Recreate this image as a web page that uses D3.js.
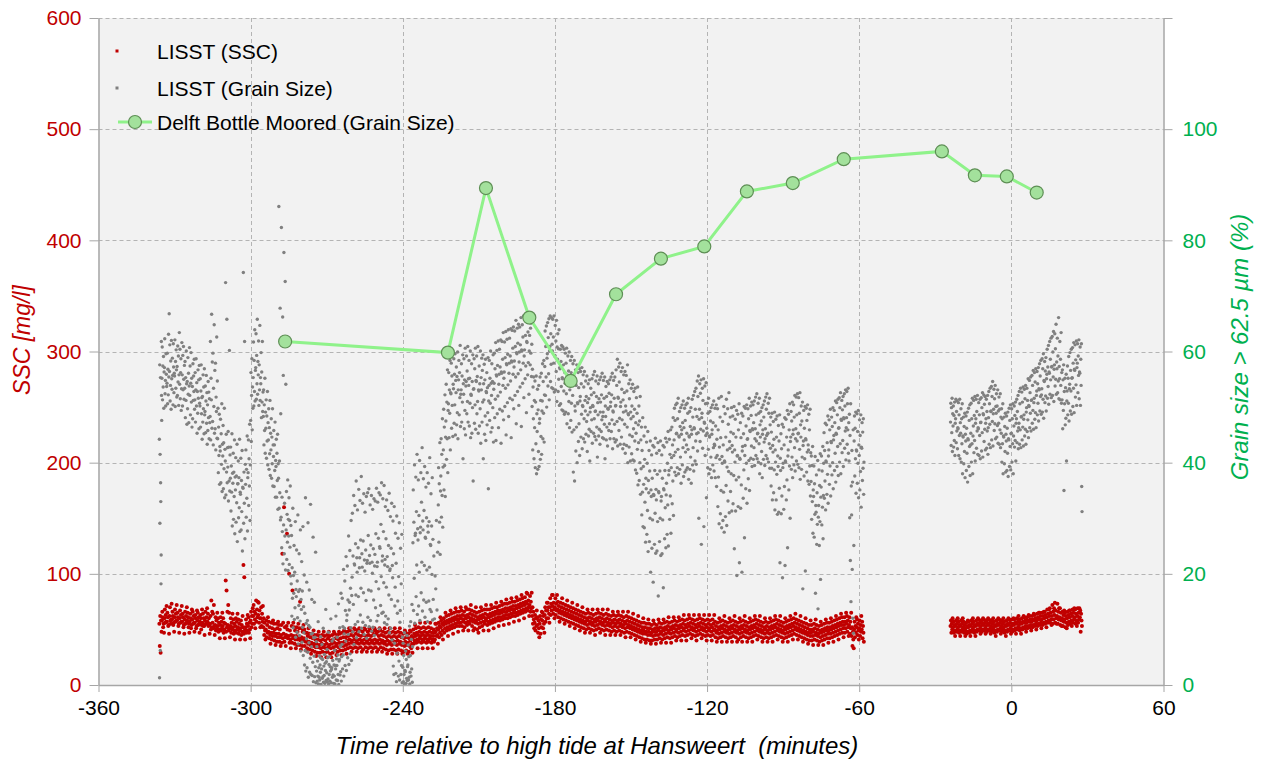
<!DOCTYPE html>
<html><head><meta charset="utf-8">
<script src="https://cdn.jsdelivr.net/npm/d3@7"></script>
<style>body{margin:0;background:#fff;} svg{display:block;font-family:"Liberation Sans",Arial,sans-serif;}</style>
</head><body><svg id="c" width="1265" height="762"></svg>
<script>
// ---------- axis ticks & labels ----------
const xTicks = [-360,-300,-240,-180,-120,-60,0,60];
const sscTicks = [0,100,200,300,400,500,600];
const pctTicks = [0,20,40,60,80,100,120];
const legendLabels = ["LISST (SSC)","LISST (Grain Size)","Delft Bottle Moored (Grain Size)"];
const xTitle = "Time relative to high tide at Hansweert \u00a0(minutes)";
const yLeftTitle = "SSC [mg/l]";
const yRightTitle = "Grain size > 62.5 \u00b5m (%)";

// ---------- Delft Bottle moored samples ----------
const bottleTime  = [-286.4,-222.2,-207.2,-190.1,-173.8,-155.9,-138.2,-121.1,-104.3,-86.2,-66.1,-27.4,-14.4,-1.8,10.0];
const bottleGrain = [61.8,59.8,89.4,66.1,54.7,70.3,76.7,78.9,88.8,90.3,94.6,96.0,91.7,91.5,88.6];

// ---------- LISST grain size (% > 62.5 um), readings per minute ----------
const grainStartA = -336;
const grainA = [
[44.2,1.3,57.6,29.1,41.5,6.2,55.3,36.4,33.0,18.2,23.4,61.8,52.1,47.6],
[55.2,60.8,51.3,57.4,53.6,59.1,49.8,56.3],[57.1,62.3,52.4,54.8,50.2,59.6,55.9,53.7],[54.3,59.7,50.6,56.8,52.2,63.1,55.4,66.8],
[56.4,61.2,51.1,53.9,58.3,49.6,62.0,55.1],[53.2,58.8,55.7,50.4,61.4,57.2,52.6,56.1],[55.6,62.1,50.1,58.2,53.4,60.3,56.7,51.8],
[57.3,52.1,61.0,54.5,59.2,50.3,55.8,63.4],[54.1,60.4,51.5,56.2,58.7,49.4,53.3,61.6],[55.8,50.2,59.3,53.1,60.9,55.0,51.4,57.5],
// -326
[53.4,58.2,48.1,55.3,51.2,60.1,54.2,46.9],[54.6,49.7,58.9,52.3,56.1,47.2,53.8,60.7],[52.1,57.4,48.6,54.3,59.8,50.9,55.2,46.4],
[53.7,47.9,57.8,51.2,55.6,52.8,58.6,49.6],[51.3,56.2,47.3,53.1,58.7,50.2,54.4,45.3],[52.8,48.9,56.7,51.6,54.9,46.1,57.5,50.7],
[50.2,55.1,46.4,52.9,57.6,48.8,51.7,44.2],[51.9,47.3,55.8,49.7,53.6,45.2,56.9,48.6],[49.2,53.8,45.4,51.1,55.7,47.1,52.6,43.3],
[50.4,45.8,54.6,48.1,52.7,44.3,51.5,47.2],
// -316
[48.3,61.8,44.1,55.2,51.3,66.7,46.2,58.1],[47.4,59.7,43.2,53.4,50.1,64.8,45.3,56.6],[46.1,57.9,42.3,51.8,49.2,62.6,44.4,54.7],
// -313
[44.3,49.8,38.2,46.4,41.3,48.7,36.1,42.9],[42.1,47.8,36.4,45.2,39.7,50.6,34.8,43.3],[41.2,46.7,35.3,43.6,38.9,49.8,33.7,42.4],
[40.3,72.4,34.2,45.1,38.3,65.8,36.4,42.7],[39.2,45.6,33.1,42.8,36.7,60.2,34.9,41.4],
// -308
[37.2,42.8,31.3,39.4,34.7,45.2,28.6,38.1],[36.3,41.7,29.8,38.3,33.9,44.1,27.2,37.4],[35.1,40.9,29.3,37.6,32.8,43.3,25.8,36.2],
[36.2,40.3,30.1,37.3,31.9,44.2,27.6,34.7],[34.3,40.8,27.9,36.8,31.2,42.2,24.1,35.6],[35.4,74.2,29.1,38.3,32.7,61.8,26.3,39.7],
[36.1,42.3,30.2,38.8,33.6,44.8,27.7,37.3],[38.2,44.1,32.3,40.7,35.8,46.9,29.6,39.6],
// -300
[47.6,56.2,43.8,52.1,58.7,45.9,53.6,49.8],[55.3,61.7,50.2,58.4,52.8,63.9,51.1,56.6],[57.1,63.2,51.4,59.3,54.2,65.8,52.3,58.2],
[55.8,61.9,50.3,57.6,53.1,64.7,51.2,55.3],[54.2,59.8,48.1,56.3,50.9,61.8,49.2,52.7],
// -295
[48.3,53.1,43.2,50.4,45.8,55.2,41.7,49.1],[46.2,51.3,40.8,48.4,43.9,52.8,39.6,47.2],[44.1,49.7,38.8,46.3,41.6,51.2,37.7,45.3],
[42.3,47.9,37.2,44.6,39.8,49.7,35.8,43.2],
// -291
[41.1,45.8,35.7,43.2,38.6,47.3,33.8,40.4],[39.3,44.2,33.8,41.7,36.8,45.1,31.6,39.8],[37.2,86.1,31.8,40.3,34.6,67.8,29.7,48.8],
// -288
[30.2,82.3,24.7,33.8,27.6,66.2,21.8,55.7],[28.8,77.8,23.6,32.7,26.8,72.6,20.7,54.1],[27.9,34.8,22.6,30.7,25.7,36.9,20.6,29.8],
[26.8,33.7,21.7,29.6,24.8,35.8,19.6,28.7],
// -284
[18.2,26.9,12.4,21.1,15.6,31.8,10.3,19.7],[16.5,25.1,11.8,20.3,13.9,29.4,8.6,17.2],[15.9,24.3,9.5,18.7,12.1,30.6,7.4,16.8],
[14.3,23.6,8.9,17.2,11.5,27.9,6.1,15.4],[13.6,22.2,7.7,16.9,10.4,28.5,5.3,14.1],
// -279
[9.4,19.8,3.6,12.9,6.2,33.7,2.5,11.1],[8.3,18.5,3.1,11.6,5.9,29.2,1.4,10.7],[7.6,17.1,2.3,10.4,4.8,32.5,1.9,9.2],
[6.9,15.4,1.7,9.3,4.1,26.6,0.6,8.5],[5.2,14.9,1.5,8.6,3.3,23.9,0.4,7.8],
// -274
[2.5,6.9,0.7,4.3,1.6,11.4,0.2,3.1],[1.4,5.2,0.9,3.6,2.3,8.7,0.1,4.8],[2.9,7.3,1.2,4.6,1.5,10.2,0.5,3.4],
[1.7,5.5,0.3,3.9,2.6,13.6,0.8,4.2],[2.2,6.4,0.6,4.9,1.1,9.5,0.2,3.7],[1.9,5.1,0.7,3.3,2.5,11.9,0.4,2.8],
[3.1,7.9,1.4,4.4,1.8,8.3,0.3,3.6],[1.6,6.2,0.2,3.5,2.9,12.4,0.9,4.7],[3.5,8.6,0.8,5.4,1.9,14.6,0.1,4.3],
[4.6,10.3,1.8,6.9,2.4,16.5,0.7,5.1],
// -264
[7.3,15.6,2.9,10.5,5.4,20.8,1.6,9.2],[10.2,18.7,3.5,13.4,7.9,23.1,2.6,11.6],[12.6,21.4,4.9,15.3,9.1,26.8,3.7,13.5],
[14.9,24.2,5.6,17.4,10.3,29.6,4.4,16.1],
// -260
[19.4,30.9,9.6,23.2,14.5,34.1,7.3,21.8],[21.6,32.3,10.9,25.4,16.2,36.7,8.5,22.9],[20.3,31.5,11.4,24.7,15.9,35.2,9.6,21.1],
[22.9,33.2,12.6,26.1,17.4,37.5,10.2,23.6],[21.2,32.7,11.3,25.9,16.6,34.4,9.1,22.5],[20.5,31.1,10.7,24.3,15.2,33.9,8.4,21.9],
[22.4,34.6,12.2,26.9,17.1,35.3,10.5,23.3],[21.9,32.4,11.6,25.2,16.9,34.1,9.7,22.1],[20.1,31.6,10.4,24.5,15.3,33.5,8.9,21.4],
// -251
[23.5,33.1,13.9,27.2,18.6,35.4,11.5,21.3],[22.1,32.9,12.5,26.4,17.3,34.6,10.1,24.9],[24.6,34.2,14.3,28.9,19.5,36.4,12.9,22.3],
[23.2,33.5,13.1,27.6,18.4,35.9,11.2,21.6],[22.6,32.1,12.4,26.3,17.6,33.3,10.9,23.1],[21.3,31.4,11.9,25.1,16.2,34.5,9.4,20.6],
[20.9,30.3,10.2,24.6,15.4,32.7,8.1,21.5],
// -244
[19.3,29.5,3.4,23.6,1.9,32.1,7.5,14.2],[17.6,27.3,2.1,21.9,0.6,30.4,5.7,12.9],[15.1,26.4,1.6,19.5,4.3,29.2,0.9,11.3],
[13.4,24.6,1.9,18.2,3.5,27.1,0.4,8.6],[3.2,7.5,0.6,5.3,1.9,9.4,0.1,2.6],[2.4,6.1,0.3,4.6,1.2,8.9,0.8,3.3],
[3.6,7.2,0.9,5.1,1.4,10.6,0.2,2.3],[5.3,11.4,1.6,8.2,2.9,14.5,0.5,6.9],
// -236
[25.6,35.1,13.4,29.3,19.2,39.6,11.1,26.9],[27.3,37.4,15.9,31.2,21.6,41.5,12.7,28.1],[26.1,36.9,14.2,30.5,20.3,40.4,11.6,27.4],
[28.4,38.2,16.6,32.9,22.1,42.7,13.3,29.5],[27.9,37.1,15.3,31.4,21.5,39.3,12.2,26.6],[26.4,35.6,14.9,30.1,20.7,38.2,11.4,28.6],
[27.5,36.3,15.1,29.4,21.2,40.9,13.6,25.3],[25.1,34.4,13.2,28.6,19.9,37.3,11.7,26.2],
// -228
[15.4,23.2,11.9,19.6],[17.3,29.6,13.5,23.9],
// -226
[32.4,39.1,25.7,36.2,29.3,43.6,23.5,34.9],[37.6,44.3,30.2,41.5,34.1,47.9,28.4,39.2],[42.3,49.6,35.1,46.4,39.5,52.2,33.9,44.6],
[47.5,54.1,40.6,50.9,44.3,56.7,38.2,49.4],[50.6,56.2,44.5,53.1,48.9,58.4,42.3,52.6],[52.4,57.9,46.2,55.6,50.3,59.5,44.7,54.1],
// -220
[53.3,58.7,47.1,55.9,50.4,59.6,45.0,54.8],[52.6,57.2,46.8,55.5,49.0,59.9,44.3,53.1],[54.9,58.4,48.6,56.2,51.7,61.1,46.5,52.3],
[53.1,57.8,47.3,55.6,50.9,59.4,40.7,54.2],[52.3,58.7,46.1,54.9,49.4,60.6,45.0,53.8],[54.6,59.2,48.8,56.5,51.0,60.9,47.3,55.1],
[53.9,58.4,46.6,55.2,50.7,60.1,44.5,52.3],[52.1,57.8,45.3,54.6,49.9,59.4,36.7,53.2],[53.3,58.7,47.1,56.9,50.4,60.6,46.0,54.8],
[54.6,59.2,48.8,55.5,51.0,60.9,45.3,53.1],[52.9,57.4,46.6,54.2,49.7,60.1,43.5,55.3],[53.1,58.8,47.3,56.6,50.9,59.4,40.7,54.2],
[51.3,57.7,45.1,54.9,48.4,58.6,44.0,52.8],[52.6,56.2,46.8,53.5,49.0,58.9,35.3,51.1],[53.9,58.4,47.6,55.2,50.7,60.1,45.5,54.3],
[52.1,57.8,46.3,54.6,49.9,59.4,43.7,53.2],
// -204
[54.3,59.7,48.1,56.9,51.4,61.6,44.0,55.8],[55.6,60.2,48.8,57.5,52.0,61.9,46.3,54.1],[55.9,60.4,49.6,57.2,52.7,62.1,43.5,56.3],
[56.1,61.8,49.3,58.6,53.9,63.4,47.7,55.2],[56.3,61.7,50.1,58.9,53.4,63.6,45.0,57.8],[57.6,62.2,50.8,59.5,54.0,63.9,48.3,56.1],
[57.9,62.4,51.6,59.2,54.7,64.1,44.5,58.3],[58.1,63.8,51.3,60.6,55.9,64.4,49.7,57.2],[58.3,63.7,52.1,60.9,55.4,65.6,47.0,59.8],
[59.6,64.2,52.8,61.5,56.0,64.9,50.3,58.1],[59.9,64.4,53.6,61.2,56.7,66.1,46.5,60.3],[60.1,64.8,54.3,62.6,57.9,66.4,51.7,59.2],
[60.3,65.7,55.1,62.9,57.4,66.6,49.0,61.8],[61.6,65.2,55.8,63.5,58.0,65.9,52.3,60.1],
// -190
[62.9,66.4,57.6,64.2,59.7,65.1,55.5,61.3],
// -189
[50.1,56.8,42.3,53.6,47.9,55.4,40.7,51.2],[46.3,54.7,39.1,50.9,43.4,55.6,38.0,48.8],[45.6,53.2,38.8,49.5,42.0,53.9,39.3,47.1],
[47.9,55.4,40.6,51.2,44.7,56.1,41.5,49.3],[51.1,57.8,44.3,54.6,48.9,58.4,43.7,52.2],
// -184
[57.3,63.7,52.1,60.9,55.4,64.6,50.0,58.8],[59.6,65.2,53.8,62.5,56.0,65.9,51.3,60.1],[60.9,66.4,54.6,63.2,57.7,66.1,53.5,61.3],
[60.1,65.8,53.3,62.6,57.9,66.4,52.7,59.2],[59.3,64.7,53.1,61.9,56.4,65.6,51.0,60.8],[58.6,63.2,52.8,60.5,55.0,63.9,50.3,57.1],
// -178
[56.9,60.4,50.6,58.2,53.7,61.1,49.5,55.3],[55.1,60.8,49.3,57.6,52.9,60.4,48.7,56.2],[54.3,59.7,49.1,57.9,52.4,60.6,47.0,55.8],
[55.6,59.2,48.8,56.5,51.0,59.9,46.3,53.1],[53.9,58.4,47.6,56.2,50.7,59.1,45.5,54.3],[52.1,57.8,38.3,55.6,45.9,58.4,36.7,50.2],
// -172
[49.3,56.7,42.1,53.9,46.4,57.6,40.0,50.8],[50.6,56.2,43.8,53.5,47.0,56.9,41.3,51.1],[51.9,56.4,44.6,54.2,48.7,57.1,42.5,50.3],
[50.1,55.8,44.3,53.6,47.9,56.4,43.7,51.2],
// -168
[49.3,54.7,45.1,51.9,47.4,55.6,42.0,50.8],[48.6,54.2,44.8,51.5,46.0,54.9,40.3,49.1],[49.9,53.4,45.6,52.2,47.7,55.1,43.5,50.3],
[50.1,55.8,45.3,52.6,47.9,56.4,44.7,49.2],[49.3,54.7,44.1,51.9,46.4,55.6,41.0,50.8],[48.6,54.2,44.8,51.5,46.0,54.9,43.3,49.1],
[50.9,55.4,45.6,52.2,47.7,56.1,44.5,48.3],[49.1,54.8,44.3,51.6,46.9,55.4,40.7,50.2],[48.3,53.7,44.1,51.9,46.4,54.6,43.0,49.8],
[49.6,54.2,45.8,52.5,47.0,54.9,44.3,50.1],[50.9,55.4,45.6,52.2,47.7,56.1,42.5,49.3],[49.1,54.8,44.3,51.6,46.9,55.4,43.7,50.2],
// -156
[50.3,56.7,44.1,53.9,47.4,58.6,43.0,51.8],[51.6,57.2,45.8,54.5,48.0,57.9,43.3,50.1],[50.9,56.4,44.6,53.2,47.7,57.1,42.5,51.3],
[49.1,55.8,43.3,52.6,46.9,56.4,41.7,50.2],[49.3,55.7,43.1,52.9,46.4,57.6,40.0,48.8],[48.6,54.2,42.8,51.5,45.0,54.9,40.3,49.1],
// -150
[47.9,53.4,41.6,50.2,44.7,54.1,40.5,48.3],[46.1,52.8,40.3,49.6,43.9,53.4,38.7,47.2],[45.3,51.7,38.1,48.9,42.4,53.6,36.0,46.8],
[43.6,50.2,36.8,47.5,40.0,51.9,34.3,44.1],
// -146
[38.9,46.4,30.6,42.2,34.7,48.1,28.5,39.3],[36.1,44.8,28.3,40.6,32.9,46.4,25.7,37.2],[35.3,43.7,27.1,39.9,31.4,45.6,24.0,36.8],
[34.6,42.2,25.8,38.5,30.0,43.9,20.3,35.1],[33.9,41.4,24.6,37.2,29.7,43.1,18.5,34.3],[34.1,42.8,25.3,38.6,30.9,44.4,23.7,35.2],
[33.3,41.7,24.1,37.9,29.4,43.6,16.0,34.8],[34.6,42.2,25.8,38.5,30.0,43.9,23.3,33.1],[33.9,41.4,23.6,37.2,29.7,43.1,17.5,35.3],
[35.1,42.8,26.3,38.6,31.9,44.4,24.7,34.2],[36.3,43.7,27.1,39.9,32.4,45.6,25.0,37.8],[38.6,44.2,29.8,41.5,34.0,45.9,27.3,39.1],
[40.9,46.4,32.6,43.2,36.7,48.1,30.5,41.3],
// -133
[44.1,49.8,38.3,47.6,41.9,50.4,37.7,45.2],[45.3,50.7,39.1,47.9,42.4,51.6,38.0,44.8],[44.6,49.2,38.8,46.5,41.0,49.9,36.3,45.1],
[45.9,50.4,39.6,47.2,42.7,51.1,37.5,46.3],[44.1,49.8,38.3,47.6,41.9,50.4,38.7,43.2],[45.3,50.7,39.1,48.9,42.4,51.6,37.0,44.8],
[44.6,49.2,38.8,46.5,41.0,49.9,36.3,45.1],[45.9,51.4,39.6,48.2,42.7,52.1,38.5,46.3],[46.1,52.8,40.3,49.6,43.9,53.4,39.7,45.2],
// -124
[48.3,54.7,42.1,51.9,45.4,55.6,30.0,47.8],[49.6,54.2,43.8,52.5,46.0,54.9,25.3,48.1],[48.9,53.4,42.6,51.2,45.7,55.1,28.5,47.3],
[47.1,53.8,41.3,50.6,44.9,54.4,33.7,46.2],
// -120
[45.3,50.7,39.1,48.9,42.4,51.6,38.0,44.8],[44.6,49.2,38.8,47.5,41.0,49.9,37.3,45.1],[45.9,50.4,39.6,47.2,42.7,51.1,38.5,43.3],
[43.1,49.8,37.3,46.6,40.9,50.4,35.7,44.2],
// -116
[41.3,49.7,32.1,45.9,37.4,51.6,29.0,42.8],[40.6,48.2,30.8,44.5,35.0,51.9,28.3,41.1],[39.9,47.4,29.6,43.2,34.7,50.1,27.5,40.3],
[40.1,48.8,30.3,44.6,35.9,51.4,28.7,39.2],[42.3,49.7,33.1,46.9,38.4,52.6,31.0,43.8],
// -111
[42.6,48.2,34.8,45.5,38.0,49.9,31.3,43.1],[41.9,48.4,32.6,45.2,37.7,50.1,24.5,42.3],[40.1,47.8,31.3,44.6,36.9,49.4,19.7,41.2],
[41.3,48.7,32.1,45.9,37.4,50.6,22.0,40.8],[40.6,47.2,31.8,44.5,36.0,48.9,20.3,42.1],[42.9,48.4,33.6,45.2,38.7,50.1,26.5,41.3],
[43.1,49.8,35.3,46.6,39.9,50.4,32.7,44.2],[44.3,49.7,37.1,47.9,40.4,51.6,35.0,45.8],
// -103
[45.6,50.2,40.8,48.5,43.0,50.9,39.3,46.1],[45.9,50.4,40.6,47.2,42.7,51.1,39.5,44.3],[46.1,51.8,41.3,48.6,43.9,52.4,40.7,45.2],
[45.3,50.7,40.1,48.9,43.4,51.6,38.0,46.8],[44.6,49.2,39.8,47.5,42.0,49.9,37.3,45.1],[45.9,50.4,40.6,48.2,43.7,51.1,39.5,44.3],
[46.1,51.8,41.3,49.6,44.9,52.4,40.7,45.2],[45.3,50.7,40.1,48.9,43.4,51.6,39.0,46.8],
// -95
[42.6,48.2,35.8,45.5,39.0,48.9,33.3,43.1],[41.9,47.4,34.6,44.2,38.7,49.1,31.5,42.3],[40.1,47.8,33.3,44.6,37.9,48.4,30.7,41.2],
[39.3,46.7,31.1,43.9,35.4,48.6,22.0,40.8],[38.6,45.2,30.8,42.5,34.0,46.9,19.3,39.1],[39.9,46.4,31.6,43.2,35.7,48.1,21.5,40.3],
[40.1,47.8,33.3,44.6,36.9,49.4,24.7,41.2],[42.3,48.7,35.1,45.9,39.4,50.6,30.0,43.8],
// -87
[44.6,49.2,38.8,47.5,41.0,50.9,37.3,45.1],[45.9,50.4,39.6,48.2,42.7,52.1,38.5,44.3],[46.1,51.8,40.3,48.6,43.9,52.4,39.7,45.2],
[45.3,51.7,39.1,48.9,42.4,52.6,37.0,46.8],[44.6,50.2,38.8,47.5,41.0,50.9,17.3,43.1],[43.9,49.4,37.6,46.2,40.7,50.1,20.5,44.3],
[44.1,49.8,38.3,47.6,41.9,50.4,36.7,43.2],[42.3,48.7,36.1,45.9,39.4,49.6,34.0,41.8],
// -79
[36.6,41.2,29.8,39.5,33.0,42.9,27.3,35.1],[33.9,39.4,26.6,36.2,30.7,41.1,16.5,32.3],[31.1,37.8,25.3,34.6,28.9,40.4,13.7,30.2],
[32.3,38.7,25.1,35.9,29.4,41.6,19.0,33.8],[35.6,41.2,28.8,38.5,32.0,42.9,26.3,34.1],
// -74
[39.9,45.4,33.6,42.2,36.7,47.1,31.5,40.3],[40.1,46.8,34.3,43.6,37.9,48.4,32.7,41.2],[42.3,47.7,36.1,45.9,39.4,49.6,34.0,43.8],
[43.6,48.2,37.8,46.5,40.0,49.9,35.3,44.1],[44.9,49.4,38.6,47.2,41.7,51.1,36.5,45.3],[45.1,50.8,39.3,48.6,42.9,51.4,37.7,46.2],
[46.3,51.7,40.1,49.9,43.4,52.6,38.0,47.8],[47.6,51.2,41.8,49.5,44.0,51.9,39.3,48.1],[47.9,52.4,42.6,50.2,45.7,53.1,40.5,46.3],
[48.1,52.8,43.3,50.6,45.9,53.4,41.7,47.2],
// -64
[40.3,48.7,30.1,44.9,22.4,50.6,15.0,35.8],[30.6,42.2,20.8,36.5,12.0,45.9,9.3,25.1],
// -62
[43.9,48.4,37.6,46.2,40.7,49.1,34.5,42.3],[42.1,48.8,36.3,45.6,39.9,49.4,33.7,43.2],[41.3,47.7,35.1,44.9,38.4,48.6,32.0,42.8],
[42.6,47.2,36.8,45.5,39.0,47.9,34.3,40.1]
];
const grainStartB = -24;
const grainB = [
[47.3,50.7,43.1,49.9,45.4,51.6,42.0,48.8],[46.6,50.2,42.8,48.5,44.0,50.9,41.3,47.1],[47.9,51.4,43.6,49.2,45.7,51.1,42.5,46.3],
[46.1,50.8,41.3,48.6,44.9,51.4,40.7,47.2],[45.3,49.7,40.1,47.9,43.4,50.6,38.0,44.8],[44.6,48.2,39.8,46.5,42.0,48.9,37.3,45.1],
[43.9,48.4,38.6,46.2,41.7,49.1,36.5,44.3],[44.1,49.8,39.3,47.6,42.9,50.4,37.7,43.2],[45.3,50.7,40.1,47.9,43.4,51.6,38.0,44.8],
[46.6,51.2,41.8,48.5,44.0,51.9,40.3,47.1],[47.9,51.4,42.6,49.2,45.7,52.1,41.5,46.3],[46.1,50.8,41.3,48.6,44.9,51.4,40.7,47.2],
[47.3,51.7,42.1,49.9,45.4,52.6,41.0,48.8],[48.6,52.2,43.8,50.5,46.0,51.9,42.3,47.1],[47.9,51.4,42.6,49.2,45.7,52.1,41.5,46.3],
[48.1,52.8,43.3,50.6,46.9,53.4,42.7,49.2],[49.3,53.7,44.1,51.9,47.4,54.6,43.0,48.8],[49.6,53.2,45.8,51.5,47.0,53.9,44.3,50.1],
[48.9,52.4,44.6,50.2,46.7,53.1,43.5,49.3],[47.1,51.8,43.3,49.6,45.9,52.4,42.7,48.2],
// -4
[45.3,49.7,40.1,47.9,43.4,50.6,38.0,44.8],[44.6,48.2,39.8,46.5,42.0,48.9,38.3,45.1],[43.9,48.4,38.6,46.2,41.7,49.1,37.5,44.3],
[44.1,49.8,39.3,47.6,42.9,50.4,38.7,45.2],
// 0
[45.3,49.7,40.1,47.9,43.4,50.6,38.0,44.8],[46.6,50.2,42.8,48.5,44.0,50.9,40.3,47.1],[47.9,51.4,43.6,49.2,45.7,52.1,42.5,46.3],
[47.1,52.8,43.3,50.6,45.9,53.4,42.7,48.2],[48.3,52.7,44.1,50.9,46.4,53.6,43.0,47.8],[48.6,53.2,44.8,51.5,46.0,53.9,43.3,49.1],
[49.9,53.4,45.6,51.2,47.7,55.1,44.5,50.3],[50.1,54.8,46.3,52.6,48.9,55.4,45.7,51.2],[51.3,55.7,47.1,53.9,49.4,56.6,46.0,50.8],
[51.6,56.2,47.8,54.5,49.0,56.9,46.3,52.1],[52.9,56.4,48.6,54.2,50.7,57.1,47.5,53.3],[53.1,57.8,49.3,55.6,51.9,58.4,48.7,52.2],
[53.3,58.7,49.1,56.9,51.4,59.6,48.0,54.8],[54.6,58.2,50.8,56.5,52.0,58.9,49.3,55.1],[55.9,60.4,51.6,57.2,53.7,61.1,50.5,56.3],
[56.1,61.8,52.3,58.6,54.9,62.4,51.7,57.2],[57.3,62.7,52.1,59.9,55.4,63.6,51.0,56.8],[57.6,63.2,53.8,60.5,55.0,64.9,52.3,58.1],
[56.9,62.4,52.6,59.2,54.7,66.1,51.5,57.3],[55.1,61.8,51.3,58.6,53.9,63.4,50.7,56.2],
// 20
[51.3,56.7,46.1,54.9,49.4,57.6,35.0,52.8],[50.6,55.2,46.8,53.5,48.0,55.9,40.3,51.1],[52.9,57.4,48.6,55.2,50.7,59.1,47.5,53.3],
[54.1,59.8,49.3,56.6,52.9,60.4,48.7,55.2],[55.3,60.7,50.1,57.9,53.4,61.6,49.0,56.8],[56.6,61.2,51.8,58.5,54.0,61.9,50.3,57.1],
[57.9,61.4,52.6,59.2,55.7,62.1,51.5,56.3],[56.1,60.8,50.3,58.6,53.9,61.4,35.7,31.2]
];

// ---------- LISST SSC (mg/l), readings per minute ----------
const sscStartA = -336;
const sscA = [
[55,35,62,29,58,48],
[58,66,61,52,55,47],[60,68,56,63,57,71],[57,65,61,53,54,46],[62,70,58,55,59,73],[59,66,62,54,56,48],[61,68,57,64,58,72],
[58,65,61,53,55,47],[60,67,56,63,57,71],[57,64,61,52,54,46],[59,66,55,62,56,70],[58,65,61,52,55,47],[57,64,60,51,54,68],
[59,66,55,62,56,48],[56,63,60,51,53,67],[58,65,54,61,55,47],[57,63,60,50,54,68],[56,64,53,60,53,45],[58,66,55,61,55,69],
[57,64,53,60,54,46],
// -316
[55,62,50,76,52,66],[56,64,51,72,53,45],[54,61,49,58,51,65],[53,60,48,56,50,42],[54,61,49,57,51,65],[53,60,47,56,50,42],
[55,94,48,85,52,66],[54,72,49,65,51,43],[53,60,47,56,50,64],[52,59,46,55,49,41],[53,60,47,57,50,64],[52,59,46,55,49,41],
[51,58,45,54,48,62],[52,108,46,97,49,41],[52,59,47,55,49,63],[53,61,47,56,50,42],
// -300
[58,66,52,62,55,69],[62,72,55,66,59,51],[64,76,57,68,61,75],[63,74,56,67,60,52],[60,70,53,64,57,71],
// -295
[52,60,45,56,49,41],[50,58,43,54,47,61],[48,57,42,52,45,37],[47,56,41,51,44,58],[47,55,40,50,44,36],[46,55,39,51,43,57],
[46,54,39,50,43,35],[45,54,38,118,42,56],[46,160,39,52,43,35],[45,53,136,50,42,56],[44,100,38,49,41,33],[45,53,38,85,42,56],
[44,52,37,49,41,33],[44,52,36,48,41,55],[43,51,36,75,40,32],[43,51,35,48,40,54],[42,50,35,47,39,31],
// -278
[40,47,33,44,37,51],[39,46,32,43,36,28],[38,46,31,42,35,49],[37,45,30,41,34,26],[37,45,29,41,34,48],[36,44,29,40,33,25],
[37,45,30,41,34,48],[36,44,29,40,33,25],[37,45,30,42,34,48],[36,44,28,40,33,25],[37,45,29,41,34,48],[38,46,31,42,35,27],
[37,45,30,41,34,48],[38,46,31,42,35,27],[38,47,31,43,35,49],[39,47,32,43,36,28],
// -262
[40,48,33,44,37,51],[41,49,34,45,38,30],[40,48,33,44,37,51],[41,50,34,46,38,30],[40,49,33,45,37,51],[41,49,34,44,38,30],
[40,48,32,45,37,51],[41,50,34,44,38,30],[40,48,33,45,37,51],[41,49,34,44,38,30],[40,48,33,45,37,51],[41,49,34,46,38,30],
[40,48,32,44,37,51],[41,49,34,45,38,30],[40,48,33,44,37,51],[39,47,32,43,36,28],[40,48,31,44,37,51],[39,47,32,43,36,28],
[40,48,32,44,37,51],[39,47,31,43,36,28],[40,48,32,44,37,51],[39,47,31,43,36,28],[38,46,30,42,35,49],[39,47,31,43,36,28],
[38,46,30,42,35,49],[40,48,33,44,37,29],
// -236
[43,50,37,46,40,54],[44,51,38,47,41,33],[45,52,39,48,42,56],[44,51,38,47,41,33],[45,52,39,48,42,56],[44,51,38,47,41,33],
[45,52,39,48,42,56],[44,51,38,47,41,33],
// -228
[44,50,39,47,41,55],[48,55,44,51,45,37],
// -226
[50,56,43,53,47,61],[52,58,45,55,49,41],[54,60,47,57,51,65],[55,62,49,58,52,44],[56,63,50,59,53,67],[57,64,51,60,54,46],
[58,65,52,61,55,69],[59,66,53,62,56,48],[59,66,53,62,56,70],
// -217
[60,67,53,63,57,49],[59,66,52,62,56,70],[60,68,54,63,57,49],[61,68,55,64,58,72],[60,67,53,63,57,49],[59,66,51,62,56,70],
[58,65,50,61,55,47],[59,66,52,62,56,70],[60,67,53,63,57,49],[61,68,55,64,58,72],[60,68,54,63,57,49],[61,68,55,64,58,72],
[62,69,56,65,59,51],
// -204
[63,70,57,66,60,74],[64,70,58,67,61,53],[64,71,58,67,61,75],[65,72,59,68,62,54],[66,73,60,69,63,77],[66,73,60,69,63,55],
[67,74,61,70,64,78],[68,75,62,71,65,57],[68,75,62,71,65,79],[69,76,63,72,66,58],[70,77,64,73,67,81],[71,78,65,74,68,60],
[72,79,66,75,69,83],[73,82,67,76,70,62],[72,80,66,75,69,83],
// -189
[62,70,55,66,59,51],[56,63,49,60,53,67],[54,61,47,58,51,43],[55,62,46,59,52,66],[58,65,51,62,55,47],
// -184
[63,70,57,67,60,74],[67,74,60,70,64,56],[70,78,63,73,67,81],[71,81,64,74,68,60],[70,78,63,73,67,81],
// -179
[68,75,61,71,65,57],[67,74,60,70,64,78],[66,73,59,69,63,55],[65,72,58,68,62,76],[64,71,57,67,61,53],[63,70,56,66,60,74],
[62,69,55,65,59,51],[61,68,54,64,58,72],[60,67,53,63,57,49],[59,66,52,62,56,70],
// -169
[58,65,51,61,55,47],[57,64,50,60,54,68],[58,65,51,61,55,47],[57,64,50,60,54,68],[56,63,49,59,53,45],[57,64,50,60,54,68],
[58,65,51,61,55,47],[57,64,50,60,54,68],[56,63,49,59,53,45],[57,64,50,60,54,68],[56,63,49,59,53,45],[55,62,48,58,52,66],
[56,63,49,59,53,45],
// -156
[55,62,48,58,52,66],[56,63,49,59,53,45],[55,62,48,58,52,66],[54,61,47,57,51,43],[55,62,48,58,52,66],[54,61,47,57,51,43],
[53,60,46,56,50,64],[52,59,45,55,49,41],
// -148
[51,58,44,54,48,62],[50,57,43,53,47,39],[49,56,42,52,46,60],[49,56,41,52,46,38],[48,55,41,51,45,59],[48,55,40,51,45,37],
[47,54,40,50,44,58],[48,55,41,51,45,37],[48,54,41,51,45,59],[49,56,42,52,46,38],[48,55,41,51,45,59],[49,56,42,52,46,38],
[50,57,43,53,47,61],[49,56,42,52,46,38],[50,57,43,53,47,61],[51,58,44,54,48,40],[50,57,43,53,47,61],[51,58,44,54,48,40],
// -130
[52,59,45,55,49,63],[51,58,44,54,48,40],[52,59,45,55,49,63],[53,60,46,56,50,42],[52,59,45,55,49,63],[51,58,44,54,48,40],
[52,59,45,55,49,63],[53,60,46,56,50,42],[52,59,45,55,49,63],[51,58,44,54,48,40],[52,59,45,55,49,63],[51,58,44,54,48,40],
[52,59,45,55,49,63],
// -117
[50,57,43,53,47,39],[49,56,42,52,46,60],[50,57,43,53,47,39],[51,58,44,54,48,62],[50,57,43,53,47,39],[49,56,42,52,46,60],
[50,57,43,53,47,39],[51,58,44,54,48,62],[50,57,43,53,47,39],[49,56,41,52,46,60],[50,57,43,53,47,39],[51,58,44,54,48,62],
[50,57,43,53,47,39],[49,56,42,52,46,60],[50,57,43,53,47,39],[51,58,44,54,48,62],[52,59,45,55,49,41],[51,58,44,54,48,62],
[50,57,43,53,47,39],[49,56,42,52,46,60],[50,57,43,53,47,39],[49,56,42,52,46,60],
// -95
[50,57,43,53,47,39],[51,58,44,54,48,62],[52,59,45,55,49,41],[51,58,44,54,48,62],[50,57,43,53,47,39],[49,56,42,52,46,60],
[50,57,43,53,47,39],[51,58,44,54,48,62],[52,59,45,55,49,41],[53,60,46,56,50,64],[52,59,45,55,49,41],[51,58,44,54,48,62],
[50,57,43,53,47,39],[49,56,42,52,46,60],[48,55,41,51,45,37],[47,54,40,50,44,58],
// -79
[47,54,40,50,44,36],[48,55,41,51,45,59],[47,54,40,50,44,36],[46,53,39,49,43,57],[47,54,40,50,44,36],[48,55,41,51,45,59],
[49,56,42,52,46,38],[49,56,42,52,46,60],[50,57,43,53,47,39],[51,58,44,54,48,62],
// -69
[52,59,45,55,49,41],[53,60,46,56,50,64],[54,61,47,57,51,43],[54,61,47,57,51,65],[55,62,48,58,52,44],[54,61,46,57,51,65],
[44,52,35,48,41,33],[50,57,43,53,47,61],[52,59,45,55,49,41],[51,58,44,54,48,62],[50,57,42,53,47,39]
];
const sscStartB = -24;
const sscB = [
[53,58,47,55,50,60],[52,57,47,54,49,44],[53,58,48,55,50,60],[52,57,47,54,49,44],[53,58,48,55,50,60],[52,57,47,54,49,44],
[51,56,46,53,48,58],[52,57,47,54,49,44],[53,58,48,55,50,60],[52,57,47,54,49,44],[53,58,48,55,50,60],[54,59,49,56,51,46],
[53,58,48,55,50,60],[54,59,49,56,51,46],[53,58,48,55,50,60],[54,59,49,56,51,46],[53,58,48,55,50,60],[52,57,47,54,49,44],
[53,58,48,55,50,60],[54,59,49,56,51,46],[53,58,48,55,50,60],[52,57,47,54,49,44],[53,58,48,55,50,60],[54,59,49,56,51,46],
// 0
[53,59,48,55,50,60],[54,59,49,56,51,46],[55,60,50,57,52,62],[54,59,49,56,51,46],[55,60,50,57,52,62],[56,61,51,58,53,48],
[56,61,51,58,53,63],[57,62,52,59,54,49],[57,62,52,59,54,64],[58,63,53,60,55,50],[58,64,53,61,55,65],[59,65,54,62,56,51],
[59,65,54,62,56,66],[60,66,55,63,57,52],[61,68,56,64,58,68],[62,69,56,65,59,54],[62,72,55,66,59,69],[63,74,56,67,60,55],
[62,73,55,66,59,69],[61,69,54,65,58,53],[60,66,53,63,57,67],[59,65,52,62,56,51],[60,66,54,63,57,67],[61,67,55,64,58,53],
[62,68,56,65,59,69],[61,68,55,64,58,53],[62,69,56,65,59,69],[61,67,48,64,58,53]
];

// ---------- build ----------
function expand(start, rows){
  const out=[];
  rows.forEach((r,i)=>r.forEach((v,k)=>out.push({t:start+i+k/r.length, v})));
  return out;
}
const grainPts = expand(grainStartA, grainA).concat(expand(grainStartB, grainB));
const sscPts = expand(sscStartA, sscA).concat(expand(sscStartB, sscB));
const bottle = bottleTime.map((t,i)=>({t, v:bottleGrain[i]}));

const svg = d3.select("#c");
const L=98.5, R=1163.5, T=18, B=685;
const x = d3.scaleLinear().domain([-360,60]).range([L,R]);
const yL = d3.scaleLinear().domain([0,600]).range([B,T]);
const yR = d3.scaleLinear().domain([0,120]).range([B,T]);

svg.append("rect").attr("x",L).attr("y",T).attr("width",R-L).attr("height",B-T).attr("fill","#f2f2f2");

const grid = svg.append("g").attr("stroke","#b4b4b4").attr("stroke-dasharray","4,3").attr("stroke-width",1);
grid.selectAll("line.v").data(xTicks.slice(1,-1)).join("line").attr("class","v")
  .attr("x1",d=>Math.round(x(d))+0.5).attr("x2",d=>Math.round(x(d))+0.5).attr("y1",T).attr("y2",B);
grid.selectAll("line.h").data(sscTicks.slice(1)).join("line").attr("class","h")
  .attr("y1",d=>Math.round(yL(d))+0.5).attr("y2",d=>Math.round(yL(d))+0.5).attr("x1",L).attr("x2",R);

svg.append("clipPath").attr("id","clip").append("rect").attr("x",L).attr("y",T).attr("width",R-L).attr("height",B-T);
const plot = svg.append("g").attr("clip-path","url(#clip)");

plot.append("g").selectAll("circle").data(sscPts).join("circle")
  .attr("cx",d=>x(d.t)).attr("cy",d=>yL(d.v)).attr("r",2.0).attr("fill","#c00000");
plot.append("g").selectAll("circle").data(grainPts).join("circle")
  .attr("cx",d=>x(d.t)).attr("cy",d=>yR(d.v)).attr("r",1.7).attr("fill","#808080");

plot.append("path").datum(bottle).attr("fill","none").attr("stroke","#8ff28a").attr("stroke-width",3)
  .attr("d",d3.line().x(d=>x(d.t)).y(d=>yR(d.v)));
plot.append("g").selectAll("circle").data(bottle).join("circle")
  .attr("cx",d=>x(d.t)).attr("cy",d=>yR(d.v)).attr("r",6.5)
  .attr("fill","#a3e19c").attr("stroke","#5e8f55").attr("stroke-width",1.2);

// axes
function styleAxis(g,color){
  g.select(".domain").attr("stroke","#a6a6a6").attr("stroke-width",1.5);
  g.selectAll(".tick line").attr("stroke","#a6a6a6");
  g.selectAll(".tick text").attr("fill",color).attr("font-size","21px").attr("font-family","Liberation Sans, Arial, sans-serif");
}
const ax = svg.append("g").attr("transform",`translate(0,${B})`)
  .call(d3.axisBottom(x).tickValues(xTicks).tickFormat(d=>String(d)).tickSize(7).tickPadding(8).tickSizeOuter(0));
styleAxis(ax,"#000");
const al = svg.append("g").attr("transform",`translate(${L},0)`)
  .call(d3.axisLeft(yL).tickValues(sscTicks).tickFormat(d=>String(d)).tickSize(9).tickPadding(8).tickSizeOuter(0));
styleAxis(al,"#c00000");
const ar = svg.append("g").attr("transform",`translate(${R},0)`)
  .call(d3.axisRight(yR).tickValues(pctTicks).tickFormat(d=>d===120?"":String(d)).tickSize(9).tickPadding(10).tickSizeOuter(0));
styleAxis(ar,"#00b050");

// titles
svg.append("text").attr("x",597).attr("y",754).attr("text-anchor","middle")
  .attr("font-size","24px").attr("font-style","italic").attr("fill","#000").text(xTitle);
svg.append("text").attr("transform","translate(30,340) rotate(-90)").attr("text-anchor","middle")
  .attr("font-size","23px").attr("font-style","italic").attr("fill","#c00000").text(yLeftTitle);
svg.append("text").attr("transform","translate(1248,347) rotate(-90)").attr("text-anchor","middle")
  .attr("font-size","24px").attr("font-style","italic").attr("fill","#00b050").text(yRightTitle);

// legend
const lg = svg.append("g").attr("font-size","21px").attr("fill","#000");
const lgY = [51,88,122];
lg.append("rect").attr("x",115.5).attr("y",lgY[0]-1.5).attr("width",3).attr("height",3).attr("fill","#c00000");
lg.append("rect").attr("x",115.5).attr("y",lgY[1]-1.5).attr("width",3).attr("height",3).attr("fill","#808080");
lg.append("line").attr("x1",118).attr("x2",152).attr("y1",lgY[2]).attr("y2",lgY[2]).attr("stroke","#8ff28a").attr("stroke-width",3);
lg.append("circle").attr("cx",135).attr("cy",lgY[2]).attr("r",6.5).attr("fill","#a3e19c").attr("stroke","#5e8f55").attr("stroke-width",1.2);
lg.selectAll("text").data(legendLabels).join("text").attr("x",157).attr("y",(d,i)=>lgY[i]+7.5).text(d=>d);
</script></body></html>
